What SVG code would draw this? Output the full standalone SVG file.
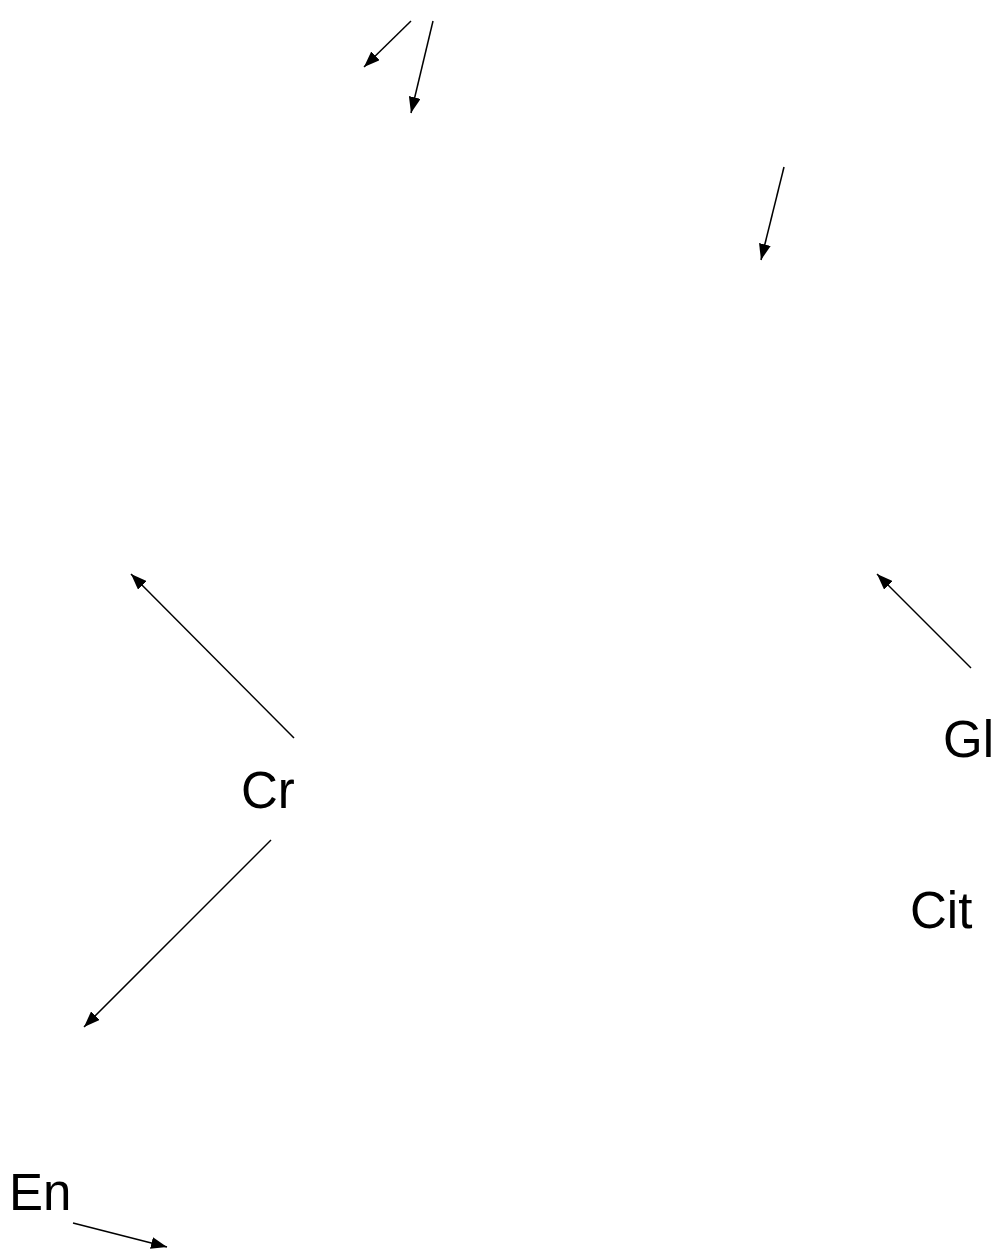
<svg xmlns="http://www.w3.org/2000/svg" width="1000" height="1259" viewBox="0 0 1000 1259">
  <style>
    .edge { stroke: #000; stroke-width: 1.5; fill: none; marker-end: url(#arrow); }
    .label { font-family: "Liberation Sans", Arial, sans-serif; font-size: 51px; fill: #000; }
  </style>
  <defs>
    <marker id="arrow" markerUnits="userSpaceOnUse" viewBox="0 0 16 12" refX="16" refY="6" markerWidth="16" markerHeight="12" orient="auto">
      <path d="M0,0 L16,6 L0,12 Z" fill="#000"/>
    </marker>
  </defs>
  <rect width="1000" height="1259" fill="#fff"/>
  <g id="connectors">
    <line class="edge" x1="411" y1="21" x2="364" y2="67"/>
    <line class="edge" x1="433" y1="21" x2="411" y2="113"/>
    <line class="edge" x1="784" y1="167" x2="761" y2="260"/>
    <line class="edge" x1="294" y1="738" x2="131" y2="574"/>
    <line class="edge" x1="971" y1="668" x2="877" y2="574"/>
    <line class="edge" x1="271" y1="840" x2="84" y2="1027"/>
    <line class="edge" x1="73" y1="1223" x2="167" y2="1247"/>
  </g>
  <g id="node-gl"><text class="label" x="943" y="757">Gl</text></g>
  <g id="node-cr"><text class="label" x="241" y="808">Cr</text></g>
  <g id="node-cit"><text class="label" x="910" y="928">Cit</text></g>
  <g id="node-en"><text class="label" x="9" y="1210">En</text></g>
</svg>
